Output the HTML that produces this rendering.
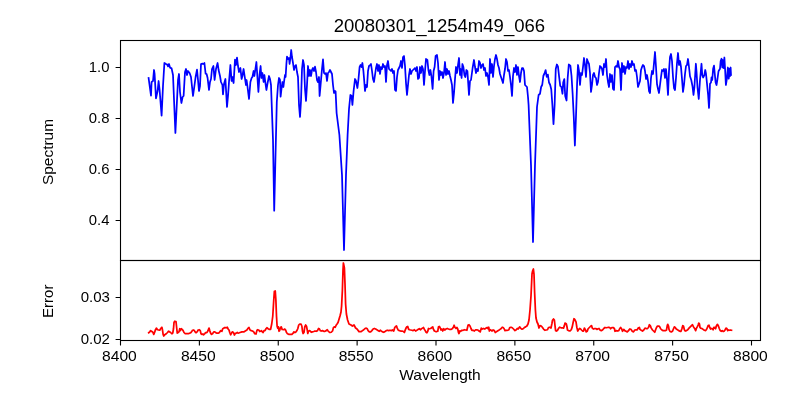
<!DOCTYPE html><html><head><meta charset="utf-8"><style>html,body{margin:0;padding:0;background:#fff;width:800px;height:400px;overflow:hidden}svg{display:block;will-change:transform}</style></head><body><svg width="800" height="400" viewBox="0 0 800 400">
<rect width="800" height="400" fill="#fff"/>
<g fill="none" stroke-linejoin="round" stroke-linecap="square">
<polyline stroke="#0000ff" stroke-width="1.75" points="148.60,78.00 151.00,95.60 151.60,82.00 153.00,81.00 154.00,70.00 154.60,74.00 156.00,98.40 157.60,91.00 158.60,81.00 159.60,90.00 161.60,115.60 163.00,86.00 164.40,63.00 166.00,64.00 167.00,64.40 168.00,66.40 169.00,64.00 170.00,67.60 171.60,68.40 173.00,75.00 175.40,133.00 178.00,80.00 179.00,74.00 180.00,92.00 181.40,103.00 182.60,97.00 183.60,96.00 185.00,72.00 186.00,69.00 187.00,75.00 188.00,71.00 189.60,73.00 191.00,77.00 193.00,96.00 194.40,86.00 195.60,77.00 197.00,69.60 198.00,80.00 199.00,91.00 200.00,86.00 201.00,64.00 202.40,63.60 203.60,64.00 204.40,63.00 205.60,73.60 206.60,74.00 207.60,78.00 209.00,90.00 210.00,82.00 211.00,79.00 212.00,69.00 213.40,66.00 214.60,80.00 216.00,69.00 217.60,63.00 218.60,70.00 220.00,76.00 221.00,82.00 222.40,85.00 223.00,94.40 224.00,84.00 225.40,79.00 227.00,107.00 228.00,96.00 229.00,82.00 230.40,65.00 231.60,81.00 232.40,77.00 233.60,83.00 235.00,59.60 236.00,65.00 237.00,57.60 238.00,66.00 239.00,72.00 240.40,68.00 241.60,79.00 242.40,76.00 243.60,69.00 244.60,76.00 246.00,85.00 246.60,80.00 247.40,86.00 249.00,99.00 250.40,82.00 251.60,78.00 252.40,77.00 253.60,71.00 254.40,76.00 255.40,69.00 256.40,62.00 257.60,80.00 258.40,92.00 259.60,74.00 260.60,66.00 261.40,78.00 262.40,73.00 263.60,82.00 264.40,75.00 265.40,83.00 266.40,90.00 267.60,83.00 269.00,76.00 270.00,79.00 271.00,85.00 273.00,140.00 274.20,210.70 275.40,160.00 276.80,102.00 278.00,85.00 279.00,78.00 280.00,80.00 280.60,96.60 281.60,88.00 282.40,82.00 283.40,87.00 284.00,82.00 285.00,75.00 285.60,77.00 286.40,64.00 287.00,56.60 288.00,59.00 289.00,58.00 289.60,64.00 290.40,58.00 291.20,50.00 292.00,57.00 293.00,63.00 294.00,70.00 295.00,66.00 296.00,65.00 297.00,72.00 298.00,77.00 299.00,105.00 300.00,117.00 301.00,101.00 302.00,69.00 303.00,60.00 304.00,65.00 305.00,89.00 306.00,101.00 307.00,85.00 308.00,66.00 309.00,76.00 310.00,70.00 311.00,76.00 312.00,70.00 313.00,68.00 314.00,71.00 315.00,66.60 316.00,72.00 317.00,80.00 318.00,82.00 319.00,77.00 319.60,96.00 320.60,85.00 322.00,69.00 323.00,59.40 324.00,73.00 325.00,74.00 326.00,73.00 327.00,81.00 328.00,73.00 329.00,72.00 330.00,70.00 331.00,72.00 332.00,74.00 333.00,85.00 334.00,93.00 335.00,91.00 335.60,91.40 336.60,113.00 339.40,135.00 342.00,175.00 344.00,250.00 346.00,175.00 347.60,135.00 349.00,109.00 350.40,95.00 351.60,96.00 352.40,105.00 353.60,91.00 355.00,79.00 356.00,81.00 357.40,88.00 358.40,80.00 359.60,67.00 360.60,65.00 361.60,67.00 362.40,63.00 363.40,71.00 364.00,78.00 365.00,91.00 366.00,85.00 367.00,87.00 368.00,71.00 369.00,66.00 370.40,65.00 371.00,64.00 372.00,71.00 373.00,79.00 374.00,82.00 375.00,75.00 376.00,68.00 377.00,64.00 378.00,71.00 379.00,65.00 380.00,74.00 381.00,67.00 382.00,69.00 383.00,64.00 384.00,67.00 385.00,66.00 386.00,82.00 387.00,65.00 388.00,61.00 389.00,69.00 390.00,70.00 391.00,71.00 392.00,69.00 393.00,73.00 394.00,71.00 395.00,90.00 396.00,91.00 397.00,77.00 398.00,70.00 399.00,68.00 400.00,66.00 401.00,61.00 402.00,68.00 403.00,57.00 404.00,56.00 405.00,66.00 406.00,83.00 407.00,95.00 408.00,85.00 409.00,75.00 410.00,69.00 411.00,74.00 412.00,71.00 413.00,70.00 414.00,69.00 415.00,68.00 416.00,71.00 417.00,67.00 418.00,79.00 419.00,78.00 420.00,67.00 421.00,73.00 422.00,66.00 423.00,69.00 424.00,85.00 425.00,71.00 426.00,59.00 427.40,60.00 428.40,70.00 429.40,75.00 430.40,70.00 431.40,76.00 432.60,89.00 433.60,71.00 434.60,67.00 435.60,56.00 437.00,55.00 438.00,63.00 439.00,80.00 440.00,71.00 441.00,75.00 442.00,72.00 443.00,78.00 444.00,73.00 445.00,62.00 446.00,75.00 447.00,69.00 448.00,74.00 449.00,71.00 450.00,76.00 451.00,80.00 452.00,85.00 453.00,103.00 454.00,93.00 455.00,79.00 456.00,67.00 457.00,73.00 458.00,65.00 459.00,58.00 460.00,75.00 460.60,69.00 461.60,78.00 462.40,64.00 463.40,67.00 464.40,75.00 465.40,77.00 466.40,70.00 467.40,71.00 469.00,95.00 470.00,81.00 471.00,80.00 472.60,68.00 474.00,60.00 475.00,67.00 476.00,73.00 477.00,69.00 478.00,71.00 479.00,61.00 480.00,63.00 481.00,68.00 482.00,65.00 483.00,64.00 484.00,70.00 485.00,68.00 486.00,76.00 487.00,73.00 488.00,77.00 489.00,85.00 490.00,59.00 491.00,73.00 492.00,64.00 493.00,77.00 494.00,66.00 495.00,59.00 496.00,55.00 497.00,59.00 498.00,65.00 499.00,68.00 500.00,74.00 501.00,77.00 502.00,80.00 503.00,83.00 504.00,75.00 505.00,69.00 506.00,59.00 507.00,62.00 508.00,71.00 509.00,70.00 510.00,77.00 511.00,85.00 512.00,96.00 513.00,76.00 514.00,68.00 515.00,72.00 516.00,65.00 517.00,75.00 518.00,67.00 519.00,76.00 520.00,82.00 521.00,73.00 522.00,68.00 523.00,68.00 524.00,71.00 525.00,85.00 526.00,86.00 527.00,87.00 528.00,97.00 528.60,105.00 531.00,165.00 533.00,242.00 535.00,165.00 537.00,107.00 538.60,95.00 540.00,93.75 541.13,87.00 542.25,84.75 543.38,75.75 544.50,73.50 545.63,70.13 546.75,76.88 547.88,74.63 549.00,82.50 550.13,84.75 551.25,89.25 552.38,105.00 553.50,124.13 554.63,105.00 555.75,69.00 556.88,64.50 558.00,66.75 559.13,76.88 560.25,85.88 561.38,87.00 562.50,93.75 563.18,82.50 564.30,79.13 565.20,96.00 566.55,100.50 567.68,78.00 568.80,64.50 570.38,65.63 571.50,75.75 572.63,93.75 573.75,116.26 574.88,145.51 576.00,116.26 577.13,82.50 578.00,65.00 579.00,71.00 580.00,85.00 581.00,73.00 582.00,75.00 583.00,67.00 584.00,58.00 585.00,65.00 586.00,77.00 587.00,59.00 588.00,62.00 589.00,64.00 590.00,73.00 591.00,92.00 592.00,85.00 593.00,75.00 594.00,73.00 595.00,77.00 596.00,78.00 597.00,85.00 598.00,82.00 599.00,73.00 600.00,66.00 601.00,67.00 602.00,69.00 603.00,75.00 604.00,64.00 605.00,67.00 606.00,59.00 607.00,75.00 608.00,82.00 609.00,87.00 610.00,74.00 611.00,82.00 612.00,75.00 613.00,89.00 614.00,90.00 615.00,67.00 616.00,66.00 617.00,67.00 618.00,61.00 619.00,67.00 620.00,69.00 621.00,90.00 622.00,63.00 623.00,72.00 624.00,66.00 625.00,74.00 626.00,67.00 627.00,68.00 628.00,61.00 629.00,69.00 630.00,64.00 631.00,67.00 632.00,61.00 633.00,65.00 634.00,64.00 635.00,71.00 636.00,70.00 637.00,77.00 638.00,87.00 639.00,84.00 640.00,81.00 641.00,70.00 642.00,67.00 643.00,65.00 644.00,66.00 645.00,71.00 646.00,79.00 647.00,75.00 648.00,81.00 649.00,91.00 650.00,93.00 651.00,78.00 652.00,71.00 653.00,74.00 654.00,63.00 655.00,52.00 656.00,67.00 657.00,84.00 658.00,89.00 659.00,93.00 660.00,85.00 661.00,77.00 662.00,70.00 663.00,71.00 664.00,69.00 665.00,78.00 666.00,69.00 667.00,80.00 668.00,95.00 669.00,71.00 670.00,57.00 671.00,54.00 672.00,61.00 673.00,77.00 674.00,88.00 675.00,90.00 676.00,78.00 677.00,63.00 678.00,53.00 679.00,65.00 680.00,61.00 681.00,67.00 682.00,79.00 683.00,92.00 684.00,85.00 685.00,74.00 686.00,66.00 687.00,65.00 688.00,59.00 689.00,67.00 690.00,76.25 691.25,80.00 692.50,86.25 693.50,95.00 694.38,87.50 695.25,73.75 695.88,63.75 696.50,71.25 697.50,87.50 698.75,99.00 700.00,80.00 700.62,73.75 701.50,63.75 702.25,75.00 703.12,77.50 704.38,75.00 705.25,70.00 706.00,73.75 706.88,82.50 708.12,95.00 709.00,108.00 709.62,95.00 710.00,83.75 711.00,82.50 711.50,77.50 712.25,80.00 713.12,68.75 714.00,65.62 714.75,73.75 715.62,82.50 716.50,85.00 717.50,78.75 718.50,71.25 720.00,68.75 720.62,61.25 721.50,58.75 722.25,67.50 722.88,60.00 723.75,68.12 724.38,57.50 725.00,67.50 725.88,85.00 726.88,78.75 727.88,67.50 728.75,78.75 729.38,68.75 730.00,76.25 730.62,67.50 731.00,75.00"/>
<polyline stroke="#ff0000" stroke-width="1.75" points="148.75,332.75 149.75,331.88 150.62,330.62 151.88,331.50 152.88,332.25 153.75,334.38 154.75,331.88 155.62,329.38 156.50,328.12 157.50,329.75 158.75,330.00 160.00,330.00 160.62,328.50 161.88,327.25 162.50,330.00 163.12,334.38 163.75,336.00 164.75,334.75 166.25,333.75 167.50,332.50 168.50,331.25 169.75,331.88 170.62,332.50 171.88,333.75 172.75,333.12 173.50,328.75 174.00,322.50 174.75,321.25 176.00,321.50 176.50,326.25 177.25,333.12 178.12,332.50 179.00,331.88 179.75,328.75 180.25,330.62 181.25,328.75 182.25,329.38 183.12,330.62 184.00,332.50 185.00,333.50 186.25,333.50 187.50,333.50 188.75,333.50 190.00,333.12 191.00,332.50 191.88,331.25 192.50,330.25 193.75,330.00 194.75,331.25 195.62,332.50 196.50,332.50 197.50,331.25 198.12,330.00 199.38,329.75 200.25,330.62 201.00,333.75 201.88,334.38 202.88,334.00 203.75,334.75 204.75,333.75 205.62,332.50 206.88,332.50 207.75,331.25 208.50,329.38 209.00,328.12 209.75,330.62 210.62,333.12 211.50,334.38 212.50,333.75 213.75,331.88 214.75,331.88 215.62,332.50 216.50,333.12 217.50,333.12 218.50,333.12 219.38,332.50 220.62,330.62 221.88,331.25 222.75,328.75 223.75,328.12 225.00,327.50 226.25,327.88 227.25,327.25 228.12,329.00 229.00,330.00 229.75,332.50 230.62,334.75 231.50,333.12 232.25,331.88 233.50,332.50 234.38,335.00 235.25,333.50 236.25,333.12 237.25,332.50 238.12,333.12 239.38,332.75 240.00,332.50 241.88,331.88 243.75,331.88 245.25,331.00 246.88,330.00 248.12,328.12 249.00,327.50 250.00,330.00 251.25,330.62 252.50,331.00 253.75,331.88 254.75,333.75 256.00,334.00 256.88,330.62 257.50,329.75 258.75,330.00 259.75,331.50 260.62,331.25 261.50,330.62 262.25,331.88 263.12,332.50 264.00,330.62 265.00,330.62 266.00,328.75 266.88,327.75 268.12,328.75 269.38,329.38 270.62,329.38 271.75,323.75 272.75,316.25 273.75,300.00 274.38,291.25 275.25,291.00 275.88,300.00 276.50,316.25 277.12,326.25 277.75,328.12 278.38,326.88 279.00,331.25 279.62,330.62 280.50,327.50 281.25,326.88 282.12,329.38 284.00,329.75 284.75,329.00 285.62,330.00 286.50,332.50 287.50,333.75 289.00,334.38 290.62,334.38 291.88,334.38 293.12,333.12 294.00,331.88 295.00,332.50 296.00,331.88 296.88,330.62 297.75,328.75 298.75,325.00 299.75,324.00 301.00,324.00 301.88,326.25 302.50,331.25 303.12,333.50 304.00,332.50 304.75,326.88 305.62,325.00 306.50,326.25 307.25,330.00 307.75,333.50 308.50,331.25 309.38,330.62 310.25,331.00 311.25,332.25 312.50,331.88 313.75,331.50 315.00,331.00 316.25,331.25 317.50,330.62 318.50,328.50 319.38,328.75 320.25,330.62 321.25,331.00 322.50,330.62 323.75,331.25 325.00,331.25 326.25,330.62 327.25,329.75 328.12,331.00 329.00,331.88 330.00,332.50 331.25,332.25 332.50,331.00 333.50,327.50 334.38,326.88 335.25,327.25 336.25,325.00 337.25,323.75 338.12,322.25 340.00,316.00 341.00,312.00 341.60,306.00 342.40,290.00 343.00,270.00 343.40,263.00 344.00,266.00 344.40,268.00 345.00,284.00 345.60,304.00 346.40,314.00 347.60,320.00 349.00,324.00 351.00,325.00 352.40,326.00 354.00,325.00 355.60,328.00 357.00,329.00 359.00,331.60 360.62,331.50 361.25,331.50 362.50,330.62 363.75,329.75 365.00,328.50 366.25,328.12 367.25,328.75 368.12,330.62 369.38,331.88 370.62,331.88 371.88,330.62 373.12,329.00 374.38,328.50 375.62,329.00 376.88,329.75 378.12,330.62 379.38,331.25 380.25,330.25 381.25,331.00 382.50,331.88 383.75,332.25 385.00,331.50 386.25,330.62 387.50,330.25 388.75,330.62 390.00,330.25 391.25,330.62 392.50,330.00 393.75,331.00 394.75,327.50 395.62,326.50 396.50,326.00 397.25,328.12 398.12,330.00 399.38,330.62 400.62,331.00 401.88,331.00 403.12,331.25 404.38,332.50 405.00,330.62 406.00,328.12 406.88,326.88 407.75,326.50 408.50,329.00 409.38,329.75 410.62,330.00 411.88,330.25 413.12,330.62 414.38,329.75 415.62,331.00 416.88,330.25 418.12,329.38 419.38,328.75 420.62,329.75 421.50,328.75 422.50,328.12 423.50,327.50 424.38,329.38 425.25,330.62 426.00,332.25 426.88,332.75 427.75,331.25 428.50,328.50 429.38,328.75 430.62,328.50 431.88,327.50 432.75,326.88 433.50,329.38 434.38,331.00 435.62,331.50 436.88,331.50 437.75,331.25 438.50,326.88 439.38,326.50 440.00,327.50 441.00,330.00 441.88,329.00 442.75,331.00 443.75,328.75 444.75,330.00 446.00,329.00 447.25,328.50 448.50,329.00 449.75,329.38 451.25,329.38 452.50,328.50 453.50,326.88 454.12,325.25 455.00,327.50 456.00,328.50 456.88,327.50 457.75,329.00 458.50,332.50 459.00,333.50 459.75,331.00 460.62,331.25 461.88,330.25 463.12,330.25 464.38,329.75 465.62,330.00 466.88,330.25 468.12,325.00 469.00,324.75 470.00,326.00 471.00,328.50 471.88,330.25 473.12,330.25 474.38,331.00 475.62,329.75 476.88,329.75 478.12,330.25 479.38,331.25 480.25,331.88 481.25,328.12 482.25,329.00 483.50,328.50 484.75,329.00 486.00,328.12 487.25,327.50 488.12,328.75 488.75,327.25 489.38,331.00 490.62,329.75 491.88,331.00 493.12,330.00 494.38,330.62 495.25,332.50 496.25,331.88 497.50,331.00 498.75,330.25 500.00,329.38 501.25,328.50 502.25,327.25 503.12,327.50 504.00,328.50 505.00,330.62 506.25,330.25 507.50,330.25 508.75,330.00 509.75,327.50 511.00,327.25 512.25,327.75 513.50,329.00 515.00,330.62 516.00,330.00 517.25,328.50 518.12,329.00 519.00,327.75 519.75,326.88 520.62,328.12 521.50,329.00 522.50,329.00 523.50,328.50 524.38,327.50 525.62,326.88 526.88,326.00 528.00,324.00 529.00,320.00 530.00,310.00 531.00,296.00 532.00,274.00 532.60,271.00 533.40,269.00 534.00,274.00 534.60,292.00 535.40,310.00 536.00,318.00 537.00,322.00 538.00,324.00 539.00,328.00 540.00,325.62 541.25,326.00 542.50,327.50 543.75,329.38 545.00,330.25 546.25,330.00 547.50,329.75 548.50,327.50 549.75,327.25 551.00,328.12 551.88,323.75 552.50,320.25 553.50,319.00 554.38,320.00 555.00,325.62 555.62,330.62 556.50,331.00 557.50,330.25 558.75,328.12 559.75,327.25 561.00,327.75 562.25,327.75 563.50,328.12 564.38,325.62 565.00,323.12 566.25,323.75 566.88,326.25 567.50,330.00 568.50,330.62 570.00,331.00 571.25,329.75 572.25,326.88 573.12,322.50 574.00,318.75 574.75,319.38 576.00,321.88 576.88,327.50 577.75,331.00 578.75,329.38 579.75,328.50 580.62,329.00 581.50,330.00 582.50,331.00 583.50,331.00 584.38,328.12 585.25,329.38 586.25,331.88 587.25,331.25 588.12,328.75 589.38,327.50 590.62,326.25 591.50,325.62 592.25,328.12 593.50,329.00 594.75,328.50 596.00,328.50 596.88,329.38 598.12,328.75 599.00,328.50 600.00,330.00 601.25,330.62 602.50,330.00 603.75,328.50 605.00,327.50 606.25,327.75 607.50,327.50 608.75,327.25 609.75,327.50 610.62,328.75 611.88,327.50 613.12,327.50 614.38,328.50 615.00,331.25 616.25,330.62 617.50,331.00 618.75,330.62 619.75,328.50 620.62,327.50 621.50,328.50 622.50,331.25 623.75,329.38 624.75,330.62 626.00,331.25 627.25,331.88 628.50,330.62 629.75,329.00 631.00,329.38 632.25,331.25 633.50,331.88 634.75,330.00 636.00,329.75 637.25,329.75 638.12,328.12 639.38,327.50 640.00,329.38 641.25,330.25 642.50,331.00 643.75,330.00 645.00,328.12 646.25,328.50 647.50,328.50 648.50,327.50 649.38,324.75 650.25,325.62 651.25,328.12 652.50,330.00 653.75,331.25 654.75,332.25 655.62,329.75 656.50,327.50 657.50,326.00 658.75,326.00 659.75,326.88 660.62,328.75 661.88,330.00 663.12,330.62 664.38,330.62 665.62,330.62 666.50,330.00 667.25,325.62 667.75,324.38 668.50,326.00 669.00,329.38 670.00,331.50 671.25,331.88 672.50,331.25 673.50,328.75 674.38,326.88 675.25,327.50 676.25,329.00 677.50,329.75 678.75,330.62 680.00,331.25 681.00,331.25 681.88,328.75 682.75,325.62 683.50,326.25 684.38,329.75 685.25,331.00 686.50,330.62 687.75,329.75 689.00,328.12 690.25,326.88 691.50,325.62 692.50,324.75 693.50,326.88 694.75,328.75 695.62,330.62 696.50,328.12 697.25,326.88 698.12,325.00 698.75,323.12 699.38,323.75 700.00,327.50 700.62,328.12 701.88,328.50 703.12,329.38 704.38,330.25 705.62,330.62 706.88,328.75 708.12,325.62 709.00,325.25 709.75,327.50 710.62,329.00 711.50,328.50 712.50,328.75 713.12,329.75 713.75,327.50 714.38,328.12 715.00,327.25 715.62,328.75 716.50,325.62 717.50,324.38 718.50,326.25 719.38,328.75 720.25,330.62 721.25,331.25 722.25,330.62 723.12,331.50 724.00,331.25 725.00,330.00 726.00,328.12 726.88,328.50 727.75,330.62 728.75,330.00 729.75,330.25 730.62,330.00 731.50,330.25"/>
</g>
<rect x="120.5" y="40.5" width="640" height="220" stroke="#000" stroke-width="1.1" fill="none"/>
<rect x="120.5" y="260.5" width="640" height="80" stroke="#000" stroke-width="1.1" fill="none"/>
<path d="M115.6 220.50H120.5 M115.6 169.50H120.5 M115.6 118.50H120.5 M115.6 67.50H120.5 M115.6 339.50H120.5 M115.6 297.50H120.5 M120.50 340.5V345.4 M199.38 340.5V345.4 M278.25 340.5V345.4 M357.12 340.5V345.4 M436.00 340.5V345.4 M514.88 340.5V345.4 M593.75 340.5V345.4 M672.62 340.5V345.4 M751.50 340.5V345.4" stroke="#000" stroke-width="1.1"/>
<text transform="translate(439.45 32.10) scale(1.037 1)" font-family='"Liberation Sans", sans-serif' font-size="17.90" text-anchor="middle">20080301_1254m49_066</text>
<text transform="translate(109.50 71.50) scale(1.070 1)" font-family='"Liberation Sans", sans-serif' font-size="13.90" text-anchor="end">1.0</text>
<text transform="translate(109.50 122.50) scale(1.070 1)" font-family='"Liberation Sans", sans-serif' font-size="13.90" text-anchor="end">0.8</text>
<text transform="translate(109.50 173.50) scale(1.070 1)" font-family='"Liberation Sans", sans-serif' font-size="13.90" text-anchor="end">0.6</text>
<text transform="translate(109.50 224.50) scale(1.070 1)" font-family='"Liberation Sans", sans-serif' font-size="13.90" text-anchor="end">0.4</text>
<text transform="translate(109.90 301.50) scale(1.080 1)" font-family='"Liberation Sans", sans-serif' font-size="13.90" text-anchor="end">0.03</text>
<text transform="translate(109.90 343.50) scale(1.080 1)" font-family='"Liberation Sans", sans-serif' font-size="13.90" text-anchor="end">0.02</text>
<text transform="translate(119.40 360.70) scale(1.125 1)" font-family='"Liberation Sans", sans-serif' font-size="13.90" text-anchor="middle">8400</text>
<text transform="translate(198.28 360.70) scale(1.125 1)" font-family='"Liberation Sans", sans-serif' font-size="13.90" text-anchor="middle">8450</text>
<text transform="translate(277.15 360.70) scale(1.125 1)" font-family='"Liberation Sans", sans-serif' font-size="13.90" text-anchor="middle">8500</text>
<text transform="translate(356.02 360.70) scale(1.125 1)" font-family='"Liberation Sans", sans-serif' font-size="13.90" text-anchor="middle">8550</text>
<text transform="translate(434.90 360.70) scale(1.125 1)" font-family='"Liberation Sans", sans-serif' font-size="13.90" text-anchor="middle">8600</text>
<text transform="translate(513.77 360.70) scale(1.125 1)" font-family='"Liberation Sans", sans-serif' font-size="13.90" text-anchor="middle">8650</text>
<text transform="translate(592.65 360.70) scale(1.125 1)" font-family='"Liberation Sans", sans-serif' font-size="13.90" text-anchor="middle">8700</text>
<text transform="translate(671.52 360.70) scale(1.125 1)" font-family='"Liberation Sans", sans-serif' font-size="13.90" text-anchor="middle">8750</text>
<text transform="translate(750.40 360.70) scale(1.125 1)" font-family='"Liberation Sans", sans-serif' font-size="13.90" text-anchor="middle">8800</text>
<text transform="translate(440.00 380.00) scale(1.118 1)" font-family='"Liberation Sans", sans-serif' font-size="13.90" text-anchor="middle">Wavelength</text>
<text transform="translate(53.00 152.00) rotate(-90) scale(1.110 1)" font-family='"Liberation Sans", sans-serif' font-size="13.90" text-anchor="middle">Spectrum</text>
<text transform="translate(53.25 301.25) rotate(-90) scale(1.080 1)" font-family='"Liberation Sans", sans-serif' font-size="13.90" text-anchor="middle">Error</text>
</svg></body></html>
